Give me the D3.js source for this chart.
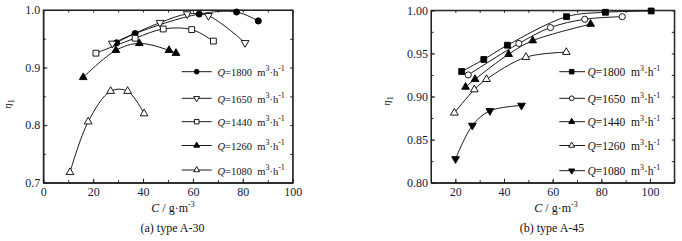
<!DOCTYPE html>
<html>
<head>
<meta charset="utf-8">
<script src="https://cdn.jsdelivr.net/npm/d3@7"></script>
<style>
  body { margin: 0; background: #fff; }
  svg { display: block; font-family: "Liberation Serif", "Times New Roman", serif; }
  .axis path, .axis line { stroke: #222; }
</style>
</head>
<body>
<svg id="chart" width="682" height="241"></svg>
<script>
// flow rates shown in both legends
var flowLabels = ['1800', '1650', '1440', '1260', '1080'];

// type A-30, [C, eta1] pairs
var a30_q1800 = [[29.4, 0.943], [36.8, 0.959], [62.5, 0.993], [77.5, 0.9965], [86.2, 0.981]];
var a30_q1650 = [[27.7, 0.942], [46.8, 0.978], [57.7, 0.993], [66.2, 0.990], [80.9, 0.943]];
var a30_q1440 = [[21.1, 0.925], [36.8, 0.951], [48.1, 0.967], [59.5, 0.966], [68.2, 0.946]];
var a30_q1260 = [[16.0, 0.883], [29.1, 0.930], [38.5, 0.942], [50.4, 0.930], [53.2, 0.925]];
var a30_q1080 = [[10.7, 0.718], [18.0, 0.806], [27.0, 0.859], [33.8, 0.859], [40.4, 0.820]];

// type A-45, [C, eta1] pairs
var a45_q1800 = [[22.6, 0.929], [31.7, 0.943], [41.4, 0.9595], [65.7, 0.9926], [81.7, 0.9977], [100.5, 0.9992]];
var a45_q1650 = [[25.3, 0.925], [46.1, 0.9615], [59.1, 0.980], [73.2, 0.9896], [88.6, 0.9926]];
var a45_q1440 = [[24.2, 0.911], [28.1, 0.920], [41.9, 0.949], [51.8, 0.9648], [75.6, 0.984]];
var a45_q1260 = [[19.6, 0.881], [27.8, 0.908], [32.8, 0.920], [49.0, 0.9456], [65.6, 0.9514]];
var a45_q1080 = [[20.1, 0.8276], [27.0, 0.8664], [34.2, 0.8834], [47.2, 0.8896]];

var xTicksA30 = [0, 20, 40, 60, 80, 100];
var yTicksA30 = [0.7, 0.8, 0.9, 1.0];
var xTicksA45 = [20, 40, 60, 80, 100];
var yTicksA45 = [0.80, 0.85, 0.90, 0.95, 1.00];

var SERIF = '"Liberation Serif", "Times New Roman", serif';
var svg = d3.select('#chart');

var MARKS = {
    circle:   {type: d3.symbolCircle,   size: 30, rot: 0},
    square:   {type: d3.symbolSquare,   size: 34, rot: 0},
    triUp:    {type: d3.symbolTriangle, size: 26, rot: 0},
    triDown:  {type: d3.symbolTriangle, size: 26, rot: 180}
};

function drawMarker(g, x, y, mark, filled, scale) {
    var m = MARKS[mark];
    g.append('path')
        .attr('d', d3.symbol().type(m.type).size(m.size * (scale || 1))())
        .attr('transform', 'translate(' + x + ',' + y + ') rotate(' + m.rot + ')')
        .attr('fill', filled ? '#000' : '#fff')
        .attr('stroke', '#000')
        .attr('stroke-width', 0.9);
}

function addQText(t, label) {
    t.append('tspan').attr('font-style', 'italic').text('Q');
    t.append('tspan').text('=' + label + '\u00a0 m');
    t.append('tspan').attr('font-size', 8).attr('dy', -5).text('3');
    t.append('tspan').attr('dy', 5).text('\u00b7h');
    t.append('tspan').attr('font-size', 8).attr('dy', -5).text('-1');
}

function drawPanel(opt) {
    var x = d3.scaleLinear().domain(opt.xDomain).range([opt.left, opt.right]);
    var y = d3.scaleLinear().domain(opt.yDomain).range([opt.bottom, opt.top]);
    var g = svg.append('g');

    var xMinor = d3.range(opt.xDomain[0], opt.xDomain[1] + 0.001, 10);
    var yMinor = d3.range(opt.yDomain[0], opt.yDomain[1] + 0.0001, opt.yMinorStep);

    // minor ticks on all four sides
    g.append('g').attr('class', 'axis').attr('transform', 'translate(0,' + opt.bottom + ')')
        .call(d3.axisBottom(x).tickValues(xMinor).tickSize(-2.5).tickSizeOuter(0).tickFormat(''));
    g.append('g').attr('class', 'axis').attr('transform', 'translate(0,' + opt.top + ')')
        .call(d3.axisTop(x).tickValues(xMinor).tickSize(-2.5).tickSizeOuter(0).tickFormat(''));
    g.append('g').attr('class', 'axis').attr('transform', 'translate(' + opt.left + ',0)')
        .call(d3.axisLeft(y).tickValues(yMinor).tickSize(-2.5).tickSizeOuter(0).tickFormat(''));
    g.append('g').attr('class', 'axis').attr('transform', 'translate(' + opt.right + ',0)')
        .call(d3.axisRight(y).tickValues(yMinor).tickSize(-2.5).tickSizeOuter(0).tickFormat(''));

    // labelled ticks
    g.append('g').attr('class', 'axis').attr('transform', 'translate(0,' + opt.bottom + ')')
        .call(d3.axisBottom(x).tickValues(opt.xTicks).tickSize(-4).tickSizeOuter(0).tickPadding(5).tickFormat(d3.format('d')));
    g.append('g').attr('class', 'axis').attr('transform', 'translate(' + opt.left + ',0)')
        .call(d3.axisLeft(y).tickValues(opt.yTicks).tickSize(-4).tickSizeOuter(0).tickPadding(3).tickFormat(d3.format(opt.yFormat)));
    g.selectAll('.axis').attr('font-family', SERIF).attr('font-size', 12);
    g.selectAll('.axis .tick text')
        .style('font-family', SERIF).style('font-size', '12px').attr('fill', '#141c3c');

    g.append('rect')
        .attr('x', opt.left).attr('y', opt.top)
        .attr('width', opt.right - opt.left).attr('height', opt.bottom - opt.top)
        .attr('fill', 'none').attr('stroke', '#222').attr('stroke-width', 1.1);

    var line = d3.line()
        .x(function(d) { return x(d[0]); })
        .y(function(d) { return y(d[1]); })
        .curve(d3.curveCatmullRom.alpha(0.5));

    opt.series.forEach(function(s) {
        g.append('path').datum(s.data).attr('d', line)
            .attr('fill', 'none').attr('stroke', '#000').attr('stroke-width', 0.9);
    });
    opt.series.forEach(function(s) {
        s.data.forEach(function(d) { drawMarker(g, x(d[0]), y(d[1]), s.mark, s.filled); });
    });

    // legend
    opt.series.forEach(function(s, i) {
        var ly = opt.legendY[i];
        g.append('line').attr('x1', opt.legendX[0]).attr('x2', opt.legendX[2])
            .attr('y1', ly).attr('y2', ly).attr('stroke', '#000').attr('stroke-width', 0.9);
        drawMarker(g, opt.legendX[1], ly, s.mark, s.filled, 0.6);
        var t = g.append('text').attr('x', opt.legendX[3]).attr('y', ly + 4.5)
            .attr('font-size', opt.legendFont).attr('fill', '#111');
        addQText(t, flowLabels[i]);
    });

    // axis titles
    var xt = g.append('text').attr('x', opt.xTitleX).attr('y', 212).attr('text-anchor', 'middle')
        .attr('font-size', 12).attr('fill', '#111');
    xt.append('tspan').attr('font-style', 'italic').text('C');
    xt.append('tspan').text(' / g\u00b7m');
    xt.append('tspan').attr('font-size', 8).attr('dy', -5).text('-3');

    var yt = g.append('text').attr('transform', 'translate(' + opt.yTitle[0] + ',' + opt.yTitle[1] + ') rotate(-90)')
        .attr('text-anchor', 'middle').attr('font-size', 11).attr('fill', '#111');
    yt.append('tspan').attr('font-style', 'italic').text('\u03b7');
    yt.append('tspan').attr('font-size', 8).attr('dy', 3).text('1');

    g.append('text').attr('x', opt.captionX).attr('y', 232).attr('text-anchor', 'middle')
        .attr('font-size', 12).attr('fill', '#111').text(opt.caption);
}

drawPanel({
    xDomain: [0, 100], yDomain: [0.7, 1.0],
    left: 43.3, right: 292.7, top: 10, bottom: 182.7,
    xTicks: xTicksA30, yTicks: yTicksA30, yFormat: '.1f', yMinorStep: 0.05,
    series: [
        {data: a30_q1800, mark: 'circle', filled: true},
        {data: a30_q1650, mark: 'triDown', filled: false},
        {data: a30_q1440, mark: 'square', filled: false},
        {data: a30_q1260, mark: 'triUp', filled: true},
        {data: a30_q1080, mark: 'triUp', filled: false}
    ],
    legendX: [181.7, 196.7, 211.7, 217.5], legendFont: 10.5,
    legendY: [71.7, 98.3, 121.7, 145.5, 170],
    xTitleX: 173, yTitle: [11, 104], captionX: 172.5, caption: '(a) type A-30'
});

drawPanel({
    xDomain: [10, 110], yDomain: [0.8, 1.0],
    left: 431, right: 674.3, top: 10.3, bottom: 182.7,
    xTicks: xTicksA45, yTicks: yTicksA45, yFormat: '.2f', yMinorStep: 0.025,
    series: [
        {data: a45_q1800, mark: 'square', filled: true},
        {data: a45_q1650, mark: 'circle', filled: false},
        {data: a45_q1440, mark: 'triUp', filled: true},
        {data: a45_q1260, mark: 'triUp', filled: false},
        {data: a45_q1080, mark: 'triDown', filled: true}
    ],
    legendX: [559.3, 571.7, 585, 587.5], legendFont: 11.5,
    legendY: [71.7, 98.3, 121.7, 145.5, 170.7],
    xTitleX: 556, yTitle: [390, 101], captionX: 552, caption: '(b) type A-45'
});
</script>
</body>
</html>
